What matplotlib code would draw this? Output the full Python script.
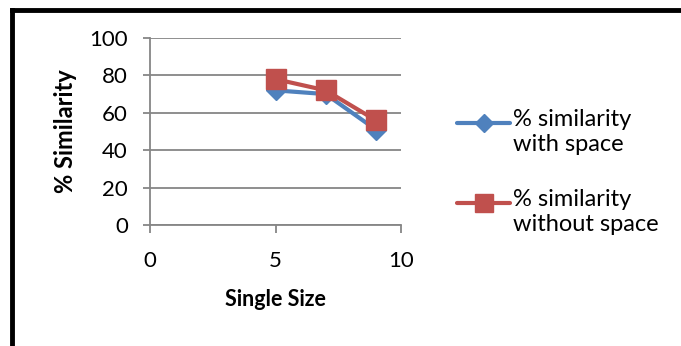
import matplotlib
matplotlib.use("Agg")
import matplotlib.pyplot as plt
from matplotlib.lines import Line2D

x_vals = [5, 7, 9]
with_space = [72, 70, 51]
without_space = [78, 72, 56]
labels = ["% similarity\nwith space", "% similarity\nwithout space"]
x_ticks = [0, 5, 10]
y_ticks = [0, 20, 40, 60, 80, 100]

plt.rcParams['font.family'] = ['Lato', 'DejaVu Sans']

W, H = 681, 346
fig = plt.figure(figsize=(W/100, H/100), dpi=100)
ax = fig.add_axes([150/W, 1-225/H, (401-150)/W, (225-38)/H])

blue = '#4F81BD'
red = '#C0504D'
grid = '#868686'

ax.plot(x_vals, with_space, color=blue, lw=3, marker='D', ms=10, zorder=3)
ax.plot(x_vals, without_space, color=red, lw=3, marker='s', ms=14, zorder=4)

ax.set_xlim(0, 10)
ax.set_ylim(0, 100)
ax.set_xticks(x_ticks)
ax.set_yticks(y_ticks)
ax.yaxis.grid(True, color=grid, lw=1.3)
ax.set_axisbelow(True)
for s in ['top', 'right']:
    ax.spines[s].set_visible(False)
for s in ['left', 'bottom']:
    ax.spines[s].set_color(grid)
    ax.spines[s].set_linewidth(1.3)
ax.tick_params(axis='both', colors=grid, width=1.3, labelsize=16, labelcolor='black')
ax.tick_params(axis='x', length=6, pad=13)
ax.tick_params(axis='y', length=5, pad=11)
ax.set_xlabel('Single Size', fontsize=15.5, fontweight='bold', labelpad=13)
ax.set_ylabel('% Similarity', fontsize=17, fontweight='bold', labelpad=9)

# legend drawn manually (marker aligned with first text line, as in reference)
def fx(p):
    return p / W
def fy(p):
    return 1 - p / H

for (color, marker, ms, ypix, lab) in [(blue, 'D', 9, 123, labels[0]), (red, 's', 13, 203, labels[1])]:
    fig.add_artist(Line2D([fx(457), fx(510)], [fy(ypix), fy(ypix)], color=color, lw=3,
                          solid_capstyle='round', transform=fig.transFigure))
    fig.add_artist(Line2D([fx(483.5)], [fy(ypix)], color=color, marker=marker, ms=ms,
                          lw=0, transform=fig.transFigure))
    fig.text(fx(513), fy(ypix - 14), lab, fontsize=17, va='top', ha='left', linespacing=1.25)

# outer frame (extends past right and bottom edges)
fig.add_artist(Line2D([fx(12), 1.0], [fy(10), fy(10)], color='black', lw=3.5, transform=fig.transFigure))
fig.add_artist(Line2D([fx(12), fx(12)], [0, fy(10)], color='black', lw=3.5, transform=fig.transFigure))

fig.savefig('out.png', dpi=100)
